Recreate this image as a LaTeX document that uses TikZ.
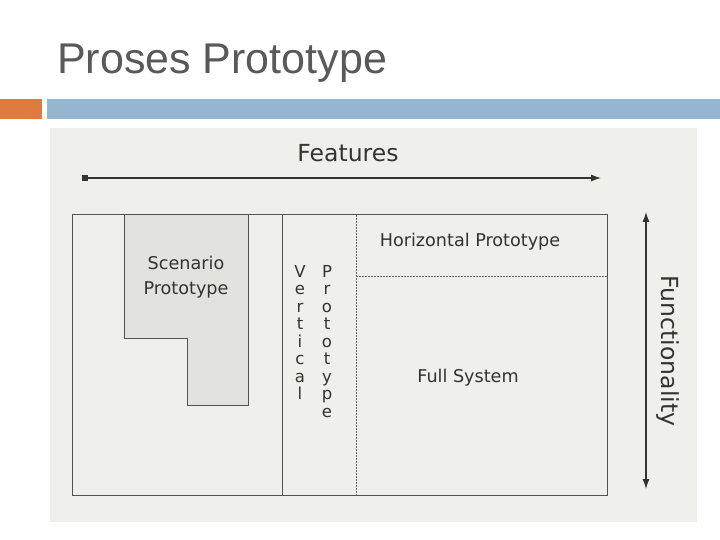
\documentclass[tikz,border=0pt]{standalone}
\usepackage{fontspec}
\setmainfont{Liberation Sans}
\newfontfamily\diag{DejaVu Sans}
\usetikzlibrary{arrows.meta}
\definecolor{orangebar}{HTML}{DF7B3C}
\definecolor{bluebar}{HTML}{94B6D2}
\definecolor{photo}{HTML}{EFEFEC}
\definecolor{scen}{HTML}{E2E2DF}
\definecolor{ink}{HTML}{333333}
\definecolor{titlegray}{HTML}{595959}
\begin{document}
\begin{tikzpicture}[x=1pt,y=-1pt,
  boxline/.style={draw=ink!85, line width=1pt},
  dline/.style={draw=ink!75, line width=0.8pt, dash pattern=on 2pt off 1pt},
  lbl/.style={font=\diag\fontsize{17.6}{18}\selectfont, text=ink, inner sep=0pt},
  big/.style={font=\diag\fontsize{23.5}{25}\selectfont, text=ink, inner sep=0pt},
  letter/.style={font=\diag\fontsize{16.5}{16}\selectfont, text=ink, inner sep=0pt, anchor=base},
  arr/.style={draw=ink, line width=1.1pt, -{Latex[length=10pt,width=7pt]}}]
\useasboundingbox (0,0) rectangle (720,540);
\fill[white] (0,0) rectangle (720,540);
\node[anchor=base west, inner sep=0pt, font=\fontsize{43}{48}\selectfont, text=titlegray] (title) at (57,74) {Proses Prototype};
\fill[orangebar] (0,99) rectangle (42,119);
\fill[bluebar] (47,99) rectangle (720,119);
\fill[photo] (50,128) rectangle (697,522);
% scenario region
\filldraw[fill=scen, boxline] (124,215) -- (124,338) -- (187,338) -- (187,405) -- (248,405) -- (248,215);
% outer box
\draw[boxline] (72,215) rectangle (607,495);
\draw[boxline] (282,215) -- (282,495);
\draw[dline] (356,215) -- (356,495);
\draw[dline] (356,276) -- (607,276);
% labels
\node[big] (features) at (348,153) {Features};
\coordinate (fs) at (85,178);
\coordinate (fe) at (601,178);
\fill[ink] (82,175) rectangle (88,181);
\draw[arr] (fs) -- (fe);
\coordinate (ut) at (646,212);
\coordinate (ub) at (646,489);
\draw[arr, {Latex[length=10pt,width=7pt]}-{Latex[length=10pt,width=7pt]}] (ut) -- (ub);
\node[big, rotate=-90] (func) at (668,351) {Functionality};
\node[lbl] (scen1) at (186,263) {Scenario};
\node[lbl] (scen2) at (186,290) {Prototype};
\node[lbl] (horiz) at (470,242) {Horizontal Prototype};
\node[lbl] (full) at (468,378) {Full System};
\foreach \c [count=\i from 0] in {V,e,r,t,i,c,a,l}
  \node[letter] (v\i) at (300,{277+17.5*\i}) {\c};
\foreach \c [count=\i from 0] in {P,r,o,t,o,t,y,p,e}
  \node[letter] (p\i) at (327,{277+17.5*\i}) {\c};
\end{tikzpicture}
\end{document}
